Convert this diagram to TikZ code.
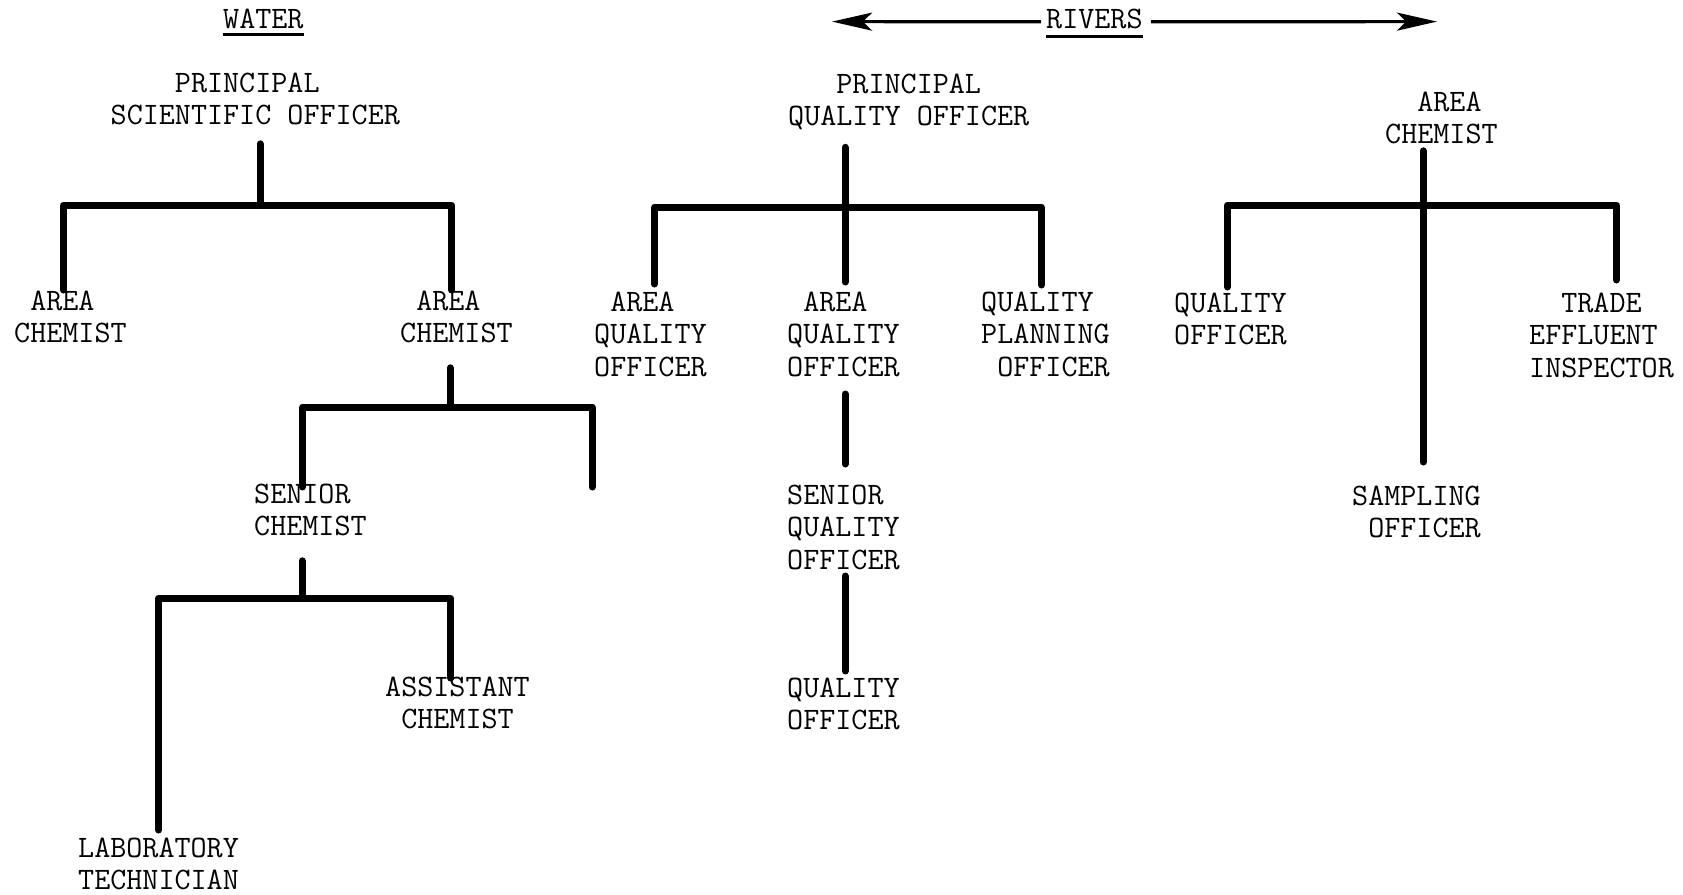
\documentclass[tikz,border=0pt]{standalone}
\usetikzlibrary{arrows.meta,calc}
% one blank typewriter cell, for indenting a line by whole characters
\newcommand\chsp{\hphantom{X}}
% stacked lines of a post title
\newcommand\orglines[1]{\begin{tabular}{@{}l@{}}#1\end{tabular}}
\begin{document}
\begin{tikzpicture}[x=1pt,y=-1pt,
  lbl/.style={inner sep=0pt, anchor=north west,
    font=\ttfamily\fontsize{31.2pt}{32.2pt}\selectfont},
  bar/.style={line width=7pt, line cap=round, line join=round},
  arr/.style={line width=3.2pt, -{Stealth[length=40pt,width=18pt,inset=9pt]}},
  uline/.style={line width=2.4pt}]
\fill[white] (0,0) rectangle (1683,894);
\useasboundingbox (0,0) rectangle (1683,894);

% ---------------- WATER ----------------
\node[lbl] (water) at (223,5.5) {\orglines{WATER}};
\draw[uline] ([yshift=3.5pt]water.south west) -- ([yshift=3.5pt]water.south east);

\node[lbl] (pso)  at (110.5,70) {\orglines{\chsp\chsp\chsp\chsp PRINCIPAL\\SCIENTIFIC OFFICER}};
\node[lbl] (acL)  at (14,288)   {\orglines{\chsp AREA\\CHEMIST}};
\node[lbl] (acR)  at (400,288)  {\orglines{\chsp AREA\\CHEMIST}};
\node[lbl] (sc)   at (254,481)  {\orglines{SENIOR\\CHEMIST}};
\node[lbl] (asst) at (385,674)  {\orglines{ASSISTANT\\\chsp CHEMIST}};
\node[lbl] (lab)  at (78,835)   {\orglines{LABORATORY\\TECHNICIAN}};

\coordinate (jA) at (260,205);
\coordinate (jB) at (450,407);
\coordinate (jC) at (302,598);
\coordinate (vac) at (592,487);

\draw[bar] ($(pso.south -| jA)+(0,9)$) -- (jA);
\draw[bar] ([xshift=-7pt,yshift=-2pt]acL.north) |- (jA) -| ([xshift=-5pt,yshift=-2pt]acR.north);

\draw[bar] ($(acR.south -| jB)+(0,15)$) -- (jB);
\draw[bar] ([xshift=-8pt,yshift=-6pt]sc.north) |- (jB) -| (vac);

\draw[bar] ($(sc.south -| jC)+(0,15)$) -- (jC);
\draw[bar] ([xshift=0pt,yshift=5pt]lab.north) |- (jC) -| ([xshift=-7pt,yshift=-4pt]asst.north);

% ---------------- RIVERS ----------------
\node[lbl] (rivers) at (1046,5.5) {\orglines{RIVERS}};
\draw[uline] ([yshift=1.5pt]rivers.south west) -- ([yshift=1.5pt]rivers.south east);
\coordinate (ltip) at (832,21.6);
\coordinate (rtip) at (1437,21.6);
\draw[arr] ([xshift=-5pt]rivers.west) -- (ltip);
\draw[arr] ([xshift=8pt]rivers.east) -- (rtip);

\node[lbl] (pqo)  at (788,70.5) {\orglines{\chsp\chsp\chsp PRINCIPAL\\QUALITY OFFICER}};
\node[lbl] (aqo1) at (594,289)  {\orglines{\chsp AREA\\QUALITY\\OFFICER}};
\node[lbl] (aqo2) at (787,289)  {\orglines{\chsp AREA\\QUALITY\\OFFICER}};
\node[lbl] (qpo)  at (981,289)  {\orglines{QUALITY\\PLANNING\\\chsp OFFICER}};
\node[lbl] (sqo)  at (787,482)  {\orglines{SENIOR\\QUALITY\\OFFICER}};
\node[lbl] (qo)   at (787,675)  {\orglines{QUALITY\\OFFICER}};

\coordinate (jD) at (845,207);
\draw[bar] ($(pqo.south -| jD)+(0,12)$) -- ($(aqo2.north -| jD)+(0,-7)$);
\draw[bar] ([xshift=4pt,yshift=5pt]aqo1.north) |- (jD) -| ([xshift=-4pt,yshift=4pt]qpo.north);
\draw[bar] ($(aqo2.south -| jD)+(0,8)$) -- ($(sqo.north -| jD)+(0,-18)$);
\draw[bar] ($(sqo.south -| jD)+(0,-3)$) -- ($(qo.north -| jD)+(0,-4)$);

\node[lbl] (acT)  at (1385,89)  {\orglines{\chsp\chsp AREA\\CHEMIST}};
\node[lbl] (qoR)  at (1174,290) {\orglines{QUALITY\\OFFICER}};
\node[lbl] (teo)  at (1529,290) {\orglines{\chsp\chsp TRADE\\EFFLUENT\\INSPECTOR}};
\node[lbl] (samp) at (1352,483) {\orglines{SAMPLING\\\chsp OFFICER}};

\coordinate (jE) at (1423,205);
\draw[bar] ($(acT.south -| jE)+(0,-3)$) -- ($(samp.north -| jE)+(0,-21)$);
\draw[bar] ([xshift=-3pt,yshift=3pt]qoR.north) |- (jE) -| ([xshift=15pt,yshift=10pt]teo.north);
\end{tikzpicture}
\end{document}
